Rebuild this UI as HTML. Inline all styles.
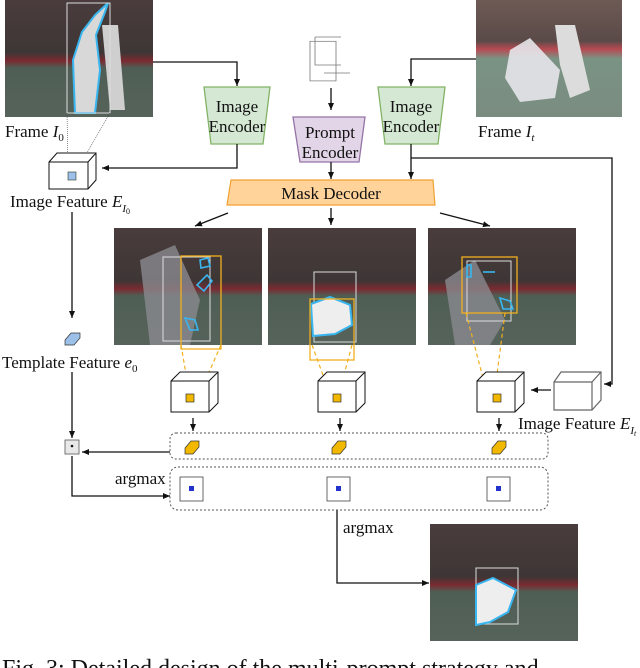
<!DOCTYPE html>
<html><head><meta charset="utf-8"><style>
html,body{margin:0;padding:0;background:#fff;width:640px;height:668px;overflow:hidden}
svg{display:block}
text{font-family:"Liberation Serif",serif;fill:#111}
</style></head><body>
<svg width="640" height="668" viewBox="0 0 640 668" xmlns="http://www.w3.org/2000/svg">
<defs>
<linearGradient id="ph" x1="0" y1="0" x2="0" y2="1">
<stop offset="0" stop-color="#4a3c3c"/><stop offset="0.45" stop-color="#3e3636"/><stop offset="0.52" stop-color="#7a2a30"/><stop offset="0.58" stop-color="#4f5e55"/><stop offset="1" stop-color="#56635a"/>
</linearGradient>
<linearGradient id="ph2" x1="0" y1="0" x2="0" y2="1">
<stop offset="0" stop-color="#6e5a55"/><stop offset="0.35" stop-color="#5a4a48"/><stop offset="0.42" stop-color="#b84a52"/><stop offset="0.5" stop-color="#7a9384"/><stop offset="1" stop-color="#7a8c80"/>
</linearGradient>
<marker id="a" markerWidth="8" markerHeight="8" refX="7" refY="4" orient="auto" markerUnits="userSpaceOnUse"><path d="M0,1 L7,4 L0,7 z" fill="#111"/></marker>
</defs>
<!-- Frame I0 -->
<rect x="5" y="0" width="148" height="117" fill="url(#ph)"/>
<path d="M75,113 L73,60 L82,32 L95,15 L108,3 L105,12 L96,35 L100,70 L95,113 z" fill="#d8d8d8" stroke="#39b6f0" stroke-width="2"/>
<path d="M102,25 L118,25 L125,110 L110,110 z" fill="#cfcfcf"/>
<rect x="67" y="3" width="43" height="110" fill="none" stroke="#ddd" stroke-width="1"/>
<text x="5" y="137" font-size="17">Frame <tspan font-style="italic">I</tspan><tspan font-size="11" dy="4">0</tspan></text>
<line x1="67" y1="113" x2="68" y2="172" stroke="#444" stroke-width="0.6" stroke-dasharray="1,1"/>
<line x1="110" y1="113" x2="76" y2="172" stroke="#444" stroke-width="0.6" stroke-dasharray="1,1"/>
<!-- cube E_I0 -->
<g stroke="#111" stroke-width="1" fill="#fff">
<path d="M49,162 L57,153 L96,153 L96,180 L88,189 L49,189 z"/><path d="M49,162 L88,162 L96,153 M88,162 L88,189"/>
</g>
<rect x="68" y="172" width="8" height="8" fill="#9cc0e8" stroke="#333" stroke-width="0.6"/>
<text x="10" y="207" font-size="17">Image Feature <tspan font-style="italic">E</tspan><tspan font-size="11" font-style="italic" dy="5">I</tspan><tspan font-size="8" dy="2">0</tspan></text>
<!-- Frame It -->
<rect x="476" y="0" width="146" height="117" fill="url(#ph2)"/>
<path d="M510,50 L530,38 L560,70 L555,98 L520,102 L505,78 z" fill="#e6e6ea" opacity="0.9"/>
<path d="M555,25 L575,25 L590,90 L570,98 L560,65 z" fill="#dcdcdc"/>
<text x="478" y="137" font-size="17">Frame <tspan font-style="italic">I</tspan><tspan font-size="11" font-style="italic" dy="4">t</tspan></text>
<!-- prompt icon -->
<g fill="none" stroke="#777" stroke-width="0.8"><path d="M315,37 L341,37 M315,37 L315,65 L341,65"/><rect x="310" y="52" width="26" height="44" transform="translate(0,-10) scale(1,0.9) translate(0,5)"/><path d="M324,73 L350,73"/></g>
<!-- encoders -->
<path d="M204,87 L270,87 L263,144 L211,144 z" fill="#d5e8d4" stroke="#82b366" stroke-width="1.3"/>
<text x="237" y="112" font-size="17" text-anchor="middle">Image</text><text x="237" y="132" font-size="17" text-anchor="middle">Encoder</text>
<path d="M378,87 L445,87 L438,144 L385,144 z" fill="#d5e8d4" stroke="#82b366" stroke-width="1.3"/>
<text x="411" y="112" font-size="17" text-anchor="middle">Image</text><text x="411" y="132" font-size="17" text-anchor="middle">Encoder</text>
<path d="M293,117 L365,117 L359,162 L300,162 z" fill="#e1d5e7" stroke="#9673a6" stroke-width="1.3"/>
<text x="330" y="138" font-size="17" text-anchor="middle">Prompt</text><text x="330" y="158" font-size="17" text-anchor="middle">Encoder</text>
<!-- mask decoder -->
<path d="M231,180 L433,180 L435,205 L227,205 z" fill="#ffd39a" stroke="#f0a030" stroke-width="1.2"/>
<text x="331" y="199" font-size="17" text-anchor="middle">Mask Decoder</text>
<!-- connectors -->
<g stroke="#111" stroke-width="1.3" fill="none" marker-end="url(#a)">
<path d="M153,62 L237,62 L237,86"/>
<path d="M476,59 L411,59 L411,86"/>
<path d="M331,88 L331,110"/>
<path d="M237,144 L237,168 L102,168"/>
<path d="M331,162 L331,179"/>
<path d="M411,144 L411,179"/>
<path d="M411,158 L612,158 L612,384 L604,384"/>
<path d="M228,213 L195,226"/>
<path d="M331,208 L331,225"/>
<path d="M440,213 L490,226"/>
<path d="M72,212 L72,318"/>
<path d="M72,372 L72,438"/>
<path d="M170,452 L82,452"/>
<path d="M72,456 L72,496 L170,496"/>
<path d="M337,510 L337,583 L429,583"/>
<path d="M551,390 L531,390"/>
<path d="M193,418 L193,431"/><path d="M340,418 L340,431"/><path d="M499,418 L499,431"/>
</g>
<!-- row photos -->
<g>
<rect x="114" y="228" width="148" height="117" fill="url(#ph)"/>
<path d="M140,260 L175,245 L200,300 L190,345 L150,345 z" fill="#8a8a8e" opacity="0.8"/>
<rect x="163" y="257" width="47" height="84" fill="none" stroke="#ddd"/>
<rect x="181" y="256" width="40" height="93" fill="none" stroke="#f0b020" stroke-width="1.3"/>
<g fill="none" stroke="#39b6f0" stroke-width="1.6"><path d="M200,260 l8,-2 l2,8 l-9,2z"/><path d="M197,285 l10,-10 l5,6 l-8,10 z"/><path d="M185,318 l10,2 l3,10 l-8,0 z"/></g>
<rect x="268" y="228" width="148" height="117" fill="url(#ph)"/>
<rect x="314" y="272" width="42" height="70" fill="none" stroke="#ddd"/>
<path d="M311,304 L330,297 L350,305 L352,325 L335,334 L313,336 z" fill="#eeeeee" stroke="#39b6f0" stroke-width="2"/>
<rect x="310" y="299" width="44" height="61" fill="none" stroke="#f0b020" stroke-width="1.3"/>
<rect x="428" y="228" width="148" height="117" fill="url(#ph)"/>
<path d="M445,280 L475,260 L505,320 L490,345 L455,345 z" fill="#8a8a8e" opacity="0.8"/>
<rect x="467" y="261" width="44" height="60" fill="none" stroke="#ddd"/>
<rect x="462" y="257" width="55" height="56" fill="none" stroke="#f0b020" stroke-width="1.3"/>
<g fill="none" stroke="#39b6f0" stroke-width="1.6"><path d="M467,265 l4,0 l0,12 l-4,0z"/><path d="M483,272 l12,0"/><path d="M500,298 l10,3 l3,8 l-10,0 z"/></g>
</g>
<g stroke="#f0b020" stroke-width="1.2" stroke-dasharray="4,3" fill="none">
<path d="M181,345 L190,397 M221,345 L198,397"/>
<path d="M312,345 L331,397 M352,345 L338,397"/>
<path d="M466,313 L488,397 M505,313 L494,397"/>
</g>
<g stroke="#111" stroke-width="1" fill="#fff">
<path d="M171,381 L180,372 L218,372 L218,403 L209,412 L171,412 z"/><path d="M171,381 L209,381 L218,372 M209,381 L209,412"/>
<path d="M318,381 L327,372 L365,372 L365,403 L356,412 L318,412 z"/><path d="M318,381 L356,381 L365,372 M356,381 L356,412"/>
<path d="M477,381 L486,372 L524,372 L524,403 L515,412 L477,412 z"/><path d="M477,381 L515,381 L524,372 M515,381 L515,412"/>
</g>
<path d="M554,382 L561,372 L601,372 L601,400 L592,410 L554,410 z" fill="#fff" stroke="#666" stroke-width="1.2"/>
<path d="M554,382 L592,382 L601,372 M592,382 L592,410" fill="none" stroke="#666" stroke-width="1.2"/>
<g fill="#f2b800" stroke="#333" stroke-width="0.7"><rect x="186" y="394" width="8" height="8"/><rect x="333" y="394" width="8" height="8"/><rect x="493" y="394" width="8" height="8"/></g>
<text x="518" y="429" font-size="17">Image Feature <tspan font-style="italic">E</tspan><tspan font-size="11" font-style="italic" dy="5">I</tspan><tspan font-size="8" font-style="italic" dy="2">t</tspan></text>
<path d="M65,340 L71,333 L80,333 L80,338 L74,345 L65,345 z" fill="#9cc0e8" stroke="#333" stroke-width="0.7"/>
<text x="2" y="368" font-size="17">Template Feature <tspan font-style="italic">e</tspan><tspan font-size="11" dy="4">0</tspan></text>
<rect x="170" y="433" width="378" height="26" rx="6" fill="none" stroke="#555" stroke-width="1" stroke-dasharray="2,2"/>
<rect x="170" y="467" width="378" height="43" rx="8" fill="none" stroke="#555" stroke-width="1" stroke-dasharray="2,2"/>
<g fill="#f2b800" stroke="#333" stroke-width="0.7">
<path d="M185,448 L191,441 L199,441 L199,447 L193,454 L185,454 z"/>
<path d="M332,448 L338,441 L346,441 L346,447 L340,454 L332,454 z"/>
<path d="M492,448 L498,441 L506,441 L506,447 L500,454 L492,454 z"/>
</g>
<rect x="65" y="440" width="14" height="14" fill="#e8e8e8" stroke="#555" stroke-width="0.8"/>
<circle cx="72" cy="446" r="1.3" fill="#111"/>
<text x="115" y="484" font-size="17">argmax</text>
<g fill="#fff" stroke="#444" stroke-width="0.8"><rect x="180" y="477" width="23" height="24"/><rect x="327" y="477" width="23" height="24"/><rect x="487" y="477" width="23" height="24"/></g>
<g fill="#2233cc"><rect x="189" y="486" width="5" height="5"/><rect x="336" y="486" width="5" height="5"/><rect x="496" y="486" width="5" height="5"/></g>
<text x="343" y="533" font-size="17">argmax</text>
<rect x="430" y="524" width="148" height="117" fill="url(#ph)"/>
<rect x="476" y="568" width="42" height="56" fill="none" stroke="#ddd"/>
<path d="M476,585 L493,578 L516,590 L508,612 L490,622 L476,625 z" fill="#eeeeee" stroke="#39b6f0" stroke-width="2"/>
<text x="2" y="676" font-size="24">Fig. 3: Detailed design of the multi-prompt strategy and</text>
</svg>
</body></html>
